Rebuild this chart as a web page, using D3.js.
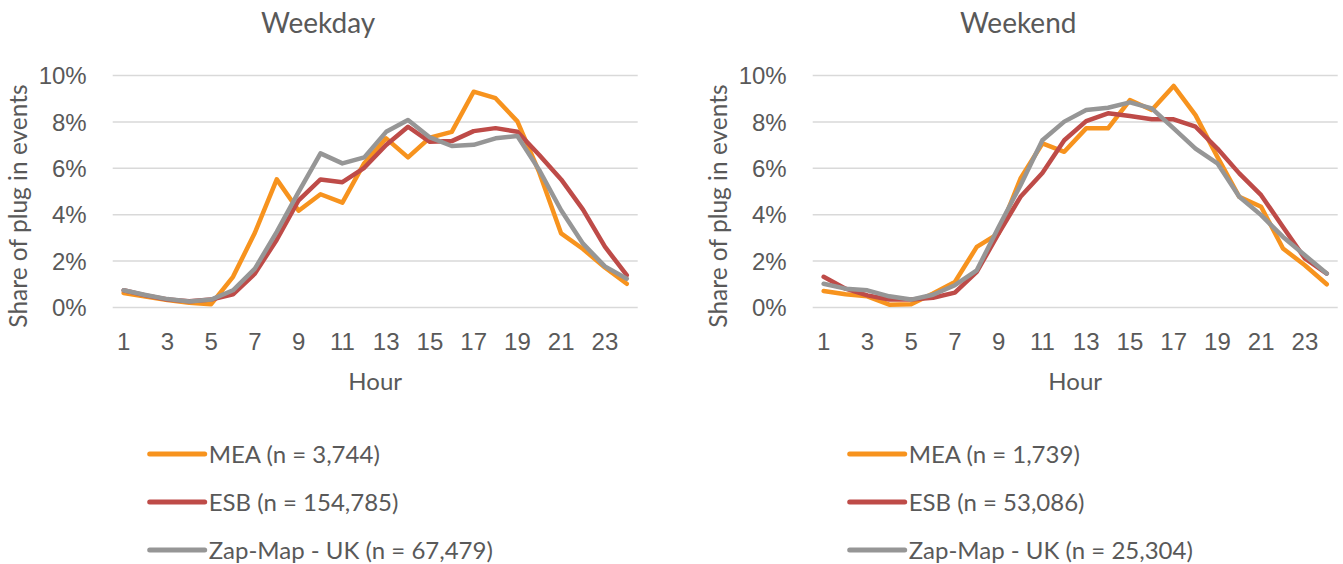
<!DOCTYPE html>
<html>
<head>
<meta charset="utf-8">
<script src="https://cdn.jsdelivr.net/npm/d3@7"></script>
<style>
  body { margin: 0; background: #fff; }
  svg { display: block; font-family: Lato, "Open Sans", sans-serif; }
</style>
</head>
<body>
<svg id="chart" width="1343" height="564"></svg>
<script>
var hours = [1,2,3,4,5,6,7,8,9,10,11,12,13,14,15,16,17,18,19,20,21,22,23,24];
var hourTicks = [1,3,5,7,9,11,13,15,17,19,21,23];
var yTicks = [0,2,4,6,8,10];

// share of plug in events, % per hour
var weekdayMEA = [0.6,0.45,0.3,0.18,0.12,1.3,3.2,5.5,4.15,4.86,4.5,6.2,7.27,6.45,7.3,7.55,9.28,9.0,8.0,5.8,3.17,2.5,1.7,1.0];
var weekdayESB = [0.72,0.5,0.32,0.25,0.32,0.55,1.44,2.9,4.6,5.5,5.38,6.0,6.98,7.77,7.12,7.15,7.58,7.71,7.55,6.55,5.5,4.2,2.6,1.37];
var weekdayZap = [0.72,0.52,0.34,0.24,0.32,0.72,1.65,3.24,4.96,6.62,6.19,6.45,7.55,8.06,7.31,6.94,6.99,7.27,7.37,5.9,4.17,2.73,1.75,1.22];

var weekendMEA = [0.69,0.55,0.46,0.1,0.12,0.58,1.08,2.59,3.17,5.54,7.05,6.69,7.7,7.7,8.92,8.49,9.53,8.27,6.47,4.75,4.32,2.52,1.8,0.98];
var weekendESB = [1.3,0.79,0.5,0.32,0.32,0.4,0.62,1.51,3.17,4.75,5.78,7.19,8.01,8.35,8.23,8.09,8.09,7.77,6.83,5.76,4.82,3.45,2.09,1.44];
var weekendZap = [1.0,0.79,0.72,0.46,0.32,0.53,0.94,1.58,3.45,5.25,7.19,7.99,8.49,8.59,8.82,8.56,7.7,6.83,6.19,4.75,3.96,3.02,2.23,1.44];

var seriesNames = ["MEA", "ESB", "Zap-Map - UK"];
var weekdayCounts = ["3,744", "154,785", "67,479"];
var weekendCounts = ["1,739", "53,086", "25,304"];
var colors = ["#F7931E", "#BE4B48", "#969696"];

var textColor = "#595959";
var svg = d3.select("#chart");

function drawChart(left, title, data, counts) {
  var g = svg.append("g").attr("transform", "translate(" + left + ",0)");
  var plotW = 525, top = 75, bottom = 307;

  var x = d3.scaleBand().domain(hours).range([0, plotW]).padding(0);
  var y = d3.scaleLinear().domain([0, 10]).range([bottom, top]);
  var cx = function(h) { return x(h) + x.bandwidth() / 2; };

  // grid + y labels
  var yAxis = g.append("g")
    .call(d3.axisLeft(y).tickValues(yTicks).tickSize(-plotW).tickPadding(26)
      .tickFormat(function(d) { return d + "%"; }));
  yAxis.select(".domain").remove();
  yAxis.selectAll("line").attr("stroke", "#D9D9D9").attr("stroke-width", 1.5);
  yAxis.selectAll("text").attr("fill", textColor).style("font-size", "24px")
    .attr("dy", "0.36em");

  var xAxis = g.append("g").attr("transform", "translate(0," + bottom + ")")
    .call(d3.axisBottom(x).tickValues(hourTicks).tickSize(0).tickPadding(26));
  xAxis.select(".domain").remove();
  xAxis.selectAll("text").attr("fill", textColor).style("font-size", "24px");

  var line = d3.line()
    .x(function(d, i) { return cx(hours[i]); })
    .y(function(d) { return y(d); });

  data.forEach(function(s, i) {
    g.append("path")
      .datum(s)
      .attr("fill", "none")
      .attr("stroke", colors[i])
      .attr("stroke-width", 4.5)
      .attr("stroke-linejoin", "round")
      .attr("stroke-linecap", "round")
      .attr("d", line);
  });

  g.append("text")
    .attr("x", plotW / 2 - 57).attr("y", 33)
    .attr("text-anchor", "middle")
    .attr("fill", textColor).style("font-size", "28px")
    .text(title);

  g.append("text")
    .attr("x", plotW / 2).attr("y", 390)
    .attr("text-anchor", "middle")
    .attr("fill", textColor).style("font-size", "24px")
    .text("Hour");

  g.append("text")
    .attr("transform", "translate(-86,206) rotate(-90)")
    .attr("text-anchor", "middle")
    .attr("fill", textColor).style("font-size", "24.5px")
    .text("Share of plug in events");

  // legend
  var legendY = [454, 502, 550];
  seriesNames.forEach(function(name, i) {
    g.append("line")
      .attr("x1", 37).attr("x2", 92)
      .attr("y1", legendY[i]).attr("y2", legendY[i])
      .attr("stroke", colors[i]).attr("stroke-width", 5)
      .attr("stroke-linecap", "round");
    g.append("text")
      .attr("x", 96).attr("y", legendY[i])
      .attr("dy", "0.36em")
      .attr("fill", textColor).style("font-size", "24px")
      .text(name + " (n = " + counts[i] + ")");
  });
}

drawChart(112.7, "Weekday", [weekdayMEA, weekdayESB, weekdayZap], weekdayCounts);
drawChart(812.7, "Weekend", [weekendMEA, weekendESB, weekendZap], weekendCounts);
</script>
</body>
</html>
